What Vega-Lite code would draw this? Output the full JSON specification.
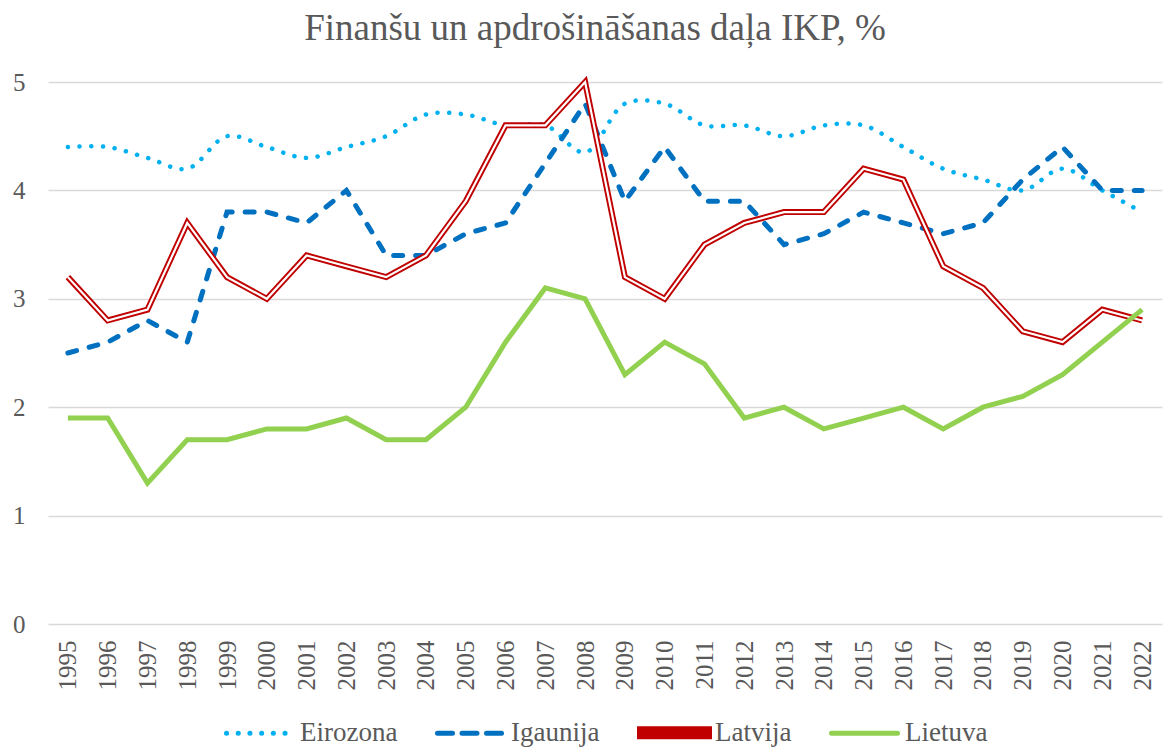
{
  "$schema": "https://vega.github.io/schema/vega-lite/v6.json",
  "autosize": {"type": "none"},
  "width": 1114,
  "height": 542,
  "padding": {"left": 48, "top": 82, "right": 4, "bottom": 123},
  "background": "white",
  "title": {"text": "Finanšu un apdrošināšanas daļa IKP, %", "font": "Liberation Serif, Times New Roman, serif", "fontSize": 37, "fontWeight": "normal", "color": "#595959", "anchor": "middle", "offset": 22, "dx": -10},
  "config": {
    "font": "Liberation Serif, Times New Roman, serif",
    "view": {"stroke": null},
    "axis": {"labelFont": "Liberation Serif, Times New Roman, serif", "labelColor": "#595959", "labelFontSize": 25, "title": null, "domain": false, "ticks": false},
    "legend": {"labelFont": "Liberation Serif, Times New Roman, serif", "padding": 0}
  },
  "data": {"values": [
    {"year": "1995", "Eirozona": 4.4, "Igaunija": 2.5, "Latvija": 3.2, "Lietuva": 1.9},
    {"year": "1996", "Eirozona": 4.4, "Igaunija": 2.6, "Latvija": 2.8, "Lietuva": 1.9},
    {"year": "1997", "Eirozona": 4.3, "Igaunija": 2.8, "Latvija": 2.9, "Lietuva": 1.3},
    {"year": "1998", "Eirozona": 4.2, "Igaunija": 2.6, "Latvija": 3.7, "Lietuva": 1.7},
    {"year": "1999", "Eirozona": 4.5, "Igaunija": 3.8, "Latvija": 3.2, "Lietuva": 1.7},
    {"year": "2000", "Eirozona": 4.4, "Igaunija": 3.8, "Latvija": 3.0, "Lietuva": 1.8},
    {"year": "2001", "Eirozona": 4.3, "Igaunija": 3.7, "Latvija": 3.4, "Lietuva": 1.8},
    {"year": "2002", "Eirozona": 4.4, "Igaunija": 4.0, "Latvija": 3.3, "Lietuva": 1.9},
    {"year": "2003", "Eirozona": 4.5, "Igaunija": 3.4, "Latvija": 3.2, "Lietuva": 1.7},
    {"year": "2004", "Eirozona": 4.7, "Igaunija": 3.4, "Latvija": 3.4, "Lietuva": 1.7},
    {"year": "2005", "Eirozona": 4.7, "Igaunija": 3.6, "Latvija": 3.9, "Lietuva": 2.0},
    {"year": "2006", "Eirozona": 4.6, "Igaunija": 3.7, "Latvija": 4.6, "Lietuva": 2.6},
    {"year": "2007", "Eirozona": 4.6, "Igaunija": 4.25, "Latvija": 4.6, "Lietuva": 3.1},
    {"year": "2008", "Eirozona": 4.35, "Igaunija": 4.8, "Latvija": 5.0, "Lietuva": 3.0},
    {"year": "2009", "Eirozona": 4.8, "Igaunija": 3.9, "Latvija": 3.2, "Lietuva": 2.3},
    {"year": "2010", "Eirozona": 4.8, "Igaunija": 4.4, "Latvija": 3.0, "Lietuva": 2.6},
    {"year": "2011", "Eirozona": 4.6, "Igaunija": 3.9, "Latvija": 3.5, "Lietuva": 2.4},
    {"year": "2012", "Eirozona": 4.6, "Igaunija": 3.9, "Latvija": 3.7, "Lietuva": 1.9},
    {"year": "2013", "Eirozona": 4.5, "Igaunija": 3.5, "Latvija": 3.8, "Lietuva": 2.0},
    {"year": "2014", "Eirozona": 4.6, "Igaunija": 3.6, "Latvija": 3.8, "Lietuva": 1.8},
    {"year": "2015", "Eirozona": 4.6, "Igaunija": 3.8, "Latvija": 4.2, "Lietuva": 1.9},
    {"year": "2016", "Eirozona": 4.4, "Igaunija": 3.7, "Latvija": 4.1, "Lietuva": 2.0},
    {"year": "2017", "Eirozona": 4.2, "Igaunija": 3.6, "Latvija": 3.3, "Lietuva": 1.8},
    {"year": "2018", "Eirozona": 4.1, "Igaunija": 3.7, "Latvija": 3.1, "Lietuva": 2.0},
    {"year": "2019", "Eirozona": 4.0, "Igaunija": 4.1, "Latvija": 2.7, "Lietuva": 2.1},
    {"year": "2020", "Eirozona": 4.2, "Igaunija": 4.4, "Latvija": 2.6, "Lietuva": 2.3},
    {"year": "2021", "Eirozona": 4.0, "Igaunija": 4.0, "Latvija": 2.9, "Lietuva": 2.6},
    {"year": "2022", "Eirozona": 3.8, "Igaunija": 4.0, "Latvija": 2.8, "Lietuva": 2.9}
  ]},
  "encoding": {
    "x": {"field": "year", "type": "ordinal", "scale": {"type": "point", "padding": 0.5}, "axis": {"labelAngle": 270, "labelPadding": 16, "grid": false, "labelFontSize": 25, "labelColor": "#595959"}}
  },
  "layer": [
    {
      "mark": {"type": "line", "interpolate": "catmull-rom", "strokeWidth": 4.5, "strokeDash": [0.1, 11.6], "strokeCap": "round"},
      "encoding": {
        "y": {"field": "Eirozona", "type": "quantitative", "scale": {"domain": [0, 5], "nice": false}, "axis": {"values": [0, 1, 2, 3, 4, 5], "format": "d", "grid": true, "gridColor": "#D9D9D9", "gridWidth": 1.5, "labelPadding": 23, "labelBaseline": "middle", "labelFontSize": 25, "labelColor": "#595959"}},
        "color": {"datum": "Eirozona", "type": "nominal",
          "scale": {"domain": ["Eirozona", "Igaunija", "Latvija", "Lietuva"], "range": ["#00B0F0", "#0070C0", "#C00000", "#92D050"]},
          "legend": {"title": null, "orient": "none", "legendX": 176, "legendY": 615, "direction": "horizontal", "gridAlign": "each", "symbolType": "stroke", "symbolSize": 4356, "symbolStrokeWidth": 5, "labelFontSize": 27, "labelColor": "#595959", "labelOffset": 5, "columnPadding": 29,
            "encode": {"symbols": {"update": {
              "strokeCap": {"value": "round"},
              "strokeDash": {"signal": "datum.value === 'Eirozona' ? [0.1, 11.6] : datum.value === 'Igaunija' ? [15, 9.5] : []"},
              "shape": {"signal": "datum.value === 'Latvija' ? 'M-1.06,-0.121H1.06V-0.06H-1.06Z M-1.06,0.06H1.06V0.121H-1.06Z M-1.06,-0.121H-1V0.121H-1.06Z M1,-0.121H1.06V0.121H1Z' : 'stroke'"},
              "fill": {"signal": "datum.value === 'Latvija' ? '#C00000' : 'transparent'"},
              "stroke": {"signal": "datum.value === 'Latvija' ? 'transparent' : scale('color', datum.value)"}
            }}}
          }
        }
      }
    },
    {
      "mark": {"type": "line", "strokeWidth": 5, "strokeDash": [9, 13], "strokeCap": "round"},
      "encoding": {
        "y": {"field": "Igaunija", "type": "quantitative"},
        "color": {"datum": "Igaunija", "type": "nominal"}
      }
    },
    {
      "mark": {"type": "line", "strokeWidth": 6},
      "encoding": {
        "y": {"field": "Latvija", "type": "quantitative"},
        "color": {"datum": "Latvija", "type": "nominal"}
      }
    },
    {
      "mark": {"type": "line", "strokeWidth": 2.2, "color": "white"},
      "encoding": {
        "y": {"field": "Latvija", "type": "quantitative"}
      }
    },
    {
      "mark": {"type": "line", "strokeWidth": 5},
      "encoding": {
        "y": {"field": "Lietuva", "type": "quantitative"},
        "color": {"datum": "Lietuva", "type": "nominal"}
      }
    }
  ]
}
